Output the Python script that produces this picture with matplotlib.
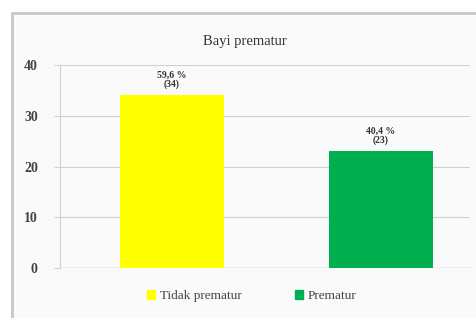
import matplotlib.pyplot as plt
import matplotlib.patches as patches

categories = ['Tidak prematur', 'Prematur']
counts = [34, 23]
percent_labels = ['59,6 %', '40,4 %']
colors = ['#ffff00', '#00b050']
y_ticks = [0, 10, 20, 30, 40]

plt.rcParams['font.family'] = ['Liberation Serif', 'DejaVu Serif']

fig = plt.figure(figsize=(4.76, 3.18), dpi=100)
fig.patch.set_facecolor('white')

# outer chart frame (behind axes)
fig.add_artist(patches.Rectangle((12 / 476, -0.01), 1.0, (318 - 13) / 318 + 0.01,
                                 transform=fig.transFigure, facecolor='#fafafa',
                                 edgecolor='#c8c8c8', linewidth=2, zorder=-1))

ax = fig.add_axes([60 / 476, 50 / 318, 410 / 476, 203 / 318])
ax.set_facecolor('none')

x = list(range(len(categories)))
bars = ax.bar(x, counts, width=0.5, color=colors, zorder=3)
for i, b in enumerate(bars):
    ax.text(b.get_x() + b.get_width() / 2, b.get_height() + 1.2,
            percent_labels[i] + '\n(' + str(counts[i]) + ')',
            ha='center', va='bottom', fontsize=7, fontweight='bold',
            linespacing=1.0, color='#333333')

ax.set_xlim(-0.536, 1.426)
ax.set_ylim(0, 40)
ax.set_yticks(y_ticks)
ax.set_yticklabels([str(t) for t in y_ticks], fontsize=10, fontweight='bold', color='#444444')
ax.set_xticks([])
ax.grid(axis='y', color='#d0d0d0', linewidth=0.8, zorder=0)
for s in ['top', 'right', 'bottom']:
    ax.spines[s].set_visible(False)
ax.spines['left'].set_color('#d0d0d0')
ax.axhline(0, color='#c0c0c0', linewidth=1, zorder=2)
ax.tick_params(axis='y', length=4, color='#d0d0d0', pad=12)

fig.text(245 / 476, 1 - 42 / 318, 'Bayi prematur', ha='center', va='center',
         fontsize=10.5, color='#333333')

handles = [patches.Patch(color=c) for c in colors]
fig.legend(handles, categories, loc='center', bbox_to_anchor=(252 / 476, 22 / 318),
           ncol=2, frameon=False, fontsize=9.5, handlelength=0.6, handleheight=0.6,
           columnspacing=4.0, handletextpad=0.4, labelcolor='#444444')

fig.savefig('out.png', dpi=100)
